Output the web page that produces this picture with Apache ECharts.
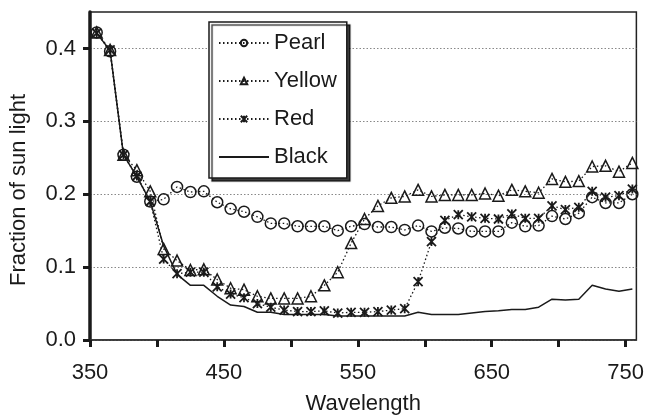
<!DOCTYPE html>
<html>
<head>
<meta charset="utf-8">
<script src="https://cdn.jsdelivr.net/npm/echarts@6/dist/echarts.min.js"></script>
<style>
  html,body{margin:0;padding:0;background:#fff}
  #chart{width:647px;height:420px}
</style>
</head>
<body>
<div id="chart"></div>
<script>
// wavelengths sampled every 10 nm
var wavelengths = [355,365,375,385,395,405,415,425,435,445,455,465,475,485,495,505,515,525,535,545,
  555,565,575,585,595,605,615,625,635,645,655,665,675,685,695,705,715,725,735,745,755];

var pearl = [0.422,0.396,0.254,0.224,0.190,0.193,0.210,0.203,0.204,0.189,0.180,0.176,0.169,0.160,0.160,
  0.156,0.156,0.156,0.150,0.156,0.159,0.155,0.155,0.151,0.157,0.149,0.154,0.153,0.149,0.149,0.149,
  0.161,0.156,0.157,0.170,0.166,0.174,0.196,0.188,0.188,0.200];

var yellow = [0.422,0.398,0.254,0.233,0.204,0.125,0.109,0.096,0.097,0.083,0.071,0.069,0.060,0.057,0.057,
  0.057,0.060,0.075,0.093,0.133,0.166,0.184,0.195,0.197,0.206,0.197,0.199,0.199,0.199,0.201,0.198,
  0.206,0.204,0.202,0.221,0.217,0.218,0.238,0.239,0.231,0.243];

var red = [0.421,0.398,0.254,0.225,0.190,0.111,0.091,0.093,0.093,0.073,0.063,0.058,0.050,0.045,0.041,
  0.039,0.039,0.040,0.037,0.038,0.038,0.039,0.041,0.043,0.080,0.135,0.164,0.172,0.169,0.167,0.166,
  0.173,0.167,0.167,0.184,0.179,0.182,0.204,0.196,0.198,0.207];

var black = [0.421,0.397,0.254,0.224,0.190,0.129,0.090,0.075,0.075,0.060,0.048,0.046,0.038,0.038,0.035,
  0.035,0.035,0.035,0.033,0.033,0.033,0.033,0.033,0.033,0.038,0.035,0.035,0.035,0.037,0.039,0.040,
  0.042,0.042,0.045,0.056,0.055,0.056,0.075,0.070,0.067,0.070];

var xTicks = [350,400,450,500,550,600,650,700,750];
var xLabels = [350,450,550,650,750];
var yTicks = [0,0.1,0.2,0.3,0.4];

var FONT = '"Liberation Sans", Arial, sans-serif';
var INK = '#1a1a1a';

function pairs(vals){
  return vals.map(function(v,i){ return [wavelengths[i], v]; });
}

function dottedSeries(name, vals, symbol, size, bw){
  return {
    name: name,
    type: 'line',
    data: pairs(vals),
    symbol: symbol,
    symbolSize: size,
    lineStyle: { color: INK, width: 1.3, type: [1.5, 2.5] },
    itemStyle: { color: 'transparent', borderColor: INK, borderWidth: bw },
    z: 3
  };
}

var chart = echarts.init(document.getElementById('chart'), null, { renderer: 'canvas' });

chart.setOption({
  animation: false,
  textStyle: { fontFamily: FONT, color: INK },
  grid: {
    left: 89, right: 9, top: 12, bottom: 79,
    show: true, borderColor: '#222', borderWidth: 1.5, backgroundColor: 'transparent'
  },
  legend: {
    orient: 'vertical',
    left: 209, top: 22,
    padding: [10, 10, 10, 9],
    itemWidth: 50, itemHeight: 8, itemGap: 16,
    backgroundColor: '#fff',
    borderColor: INK, borderWidth: 1.5,
    shadowColor: 'rgba(0,0,0,0.75)', shadowBlur: 1, shadowOffsetX: 3, shadowOffsetY: 3,
    textStyle: { fontFamily: FONT, fontSize: 22, color: INK },
    data: ['Pearl', 'Yellow', 'Red', { name: 'Black', itemStyle: { color: 'transparent', borderWidth: 0 } }]
  },
  xAxis: {
    type: 'value',
    min: 350, max: 758,
    name: 'Wavelength',
    nameLocation: 'middle',
    nameGap: 53,
    nameTextStyle: { fontFamily: FONT, fontSize: 22, color: INK },
    axisLine: { show: true, onZero: false, lineStyle: { color: '#333', width: 1.5 } },
    axisTick: { show: true, inside: false, length: 7, customValues: xTicks, lineStyle: { color: INK, width: 3 } },
    axisLabel: { customValues: xLabels, margin: 22, fontSize: 22, fontFamily: FONT, color: INK },
    splitLine: { show: false }
  },
  yAxis: {
    type: 'value',
    min: 0, max: 0.45,
    name: 'Fraction of sun light',
    nameLocation: 'middle',
    nameGap: 60,
    nameTextStyle: { fontFamily: FONT, fontSize: 22, color: INK, padding: [0, 28, 0, 0] },
    axisLine: { show: true, lineStyle: { color: INK, width: 3.5 } },
    axisTick: { show: true, inside: false, length: 7, customValues: yTicks, lineStyle: { color: INK, width: 3 } },
    axisLabel: {
      customValues: yTicks, margin: 14, fontSize: 22, fontFamily: FONT, color: INK,
      formatter: function(v){ return v.toFixed(1); }
    },
    splitLine: { show: true, lineStyle: { color: '#888', width: 1, type: [1.5, 2] } }
  },
  series: [
    dottedSeries('Pearl', pearl, 'circle', 11, 1.5),
    dottedSeries('Yellow', yellow, 'triangle', 11, 1.5),
    dottedSeries('Red', red, 'path://M0,0L10,10M10,0L0,10M5,0L5,10', 9, 1.8),
    {
      name: 'Black',
      type: 'line',
      data: pairs(black),
      symbol: 'none',
      lineStyle: { color: INK, width: 1.5, type: 'solid' },
      itemStyle: { color: INK },
      z: 2
    }
  ]
});
</script>
</body>
</html>
